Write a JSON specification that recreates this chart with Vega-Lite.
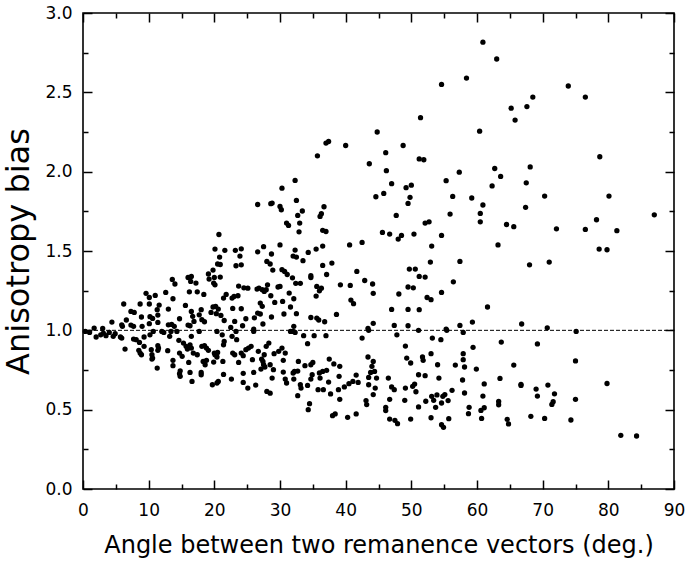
{
  "$schema": "https://vega.github.io/schema/vega-lite/v6.json",
  "width": 591,
  "height": 476,
  "autosize": {"type": "none"},
  "padding": {"left": 83, "top": 13, "right": 11, "bottom": 73},
  "background": "white",
  "data": {"values": [
    {"a":54.6,"b":2.55},{"a":58.4,"b":2.59},{"a":51.4,"b":2.34},{"a":44.8,"b":2.25},{"a":60.4,"b":2.255},{"a":37.0,"b":2.18},{"a":37.4,"b":2.19},{"a":40.0,"b":2.165},{"a":48.75,"b":2.165},{"a":35.7,"b":2.10},{"a":46.1,"b":2.12},{"a":43.6,"b":2.05},{"a":51.2,"b":2.08},{"a":51.9,"b":2.075},
    {"a":60.9,"b":2.816},{"a":63.0,"b":2.71},{"a":73.9,"b":2.54},{"a":76.5,"b":2.47},{"a":68.5,"b":2.47},{"a":65.2,"b":2.40},{"a":67.6,"b":2.41},{"a":65.8,"b":2.325},{"a":78.7,"b":2.094},{"a":62.7,"b":2.02},{"a":68.1,"b":2.03},
    {"a":63.6,"b":1.97},{"a":62.3,"b":1.91},{"a":67.5,"b":1.93},{"a":70.3,"b":1.846},{"a":80.1,"b":1.846},{"a":60.9,"b":1.79},{"a":60.5,"b":1.737},{"a":60.5,"b":1.684},{"a":67.4,"b":1.775},{"a":87.0,"b":1.728},{"a":78.2,"b":1.697},{"a":64.5,"b":1.667},{"a":65.6,"b":1.653},{"a":72.1,"b":1.64},{"a":76.5,"b":1.636},{"a":81.3,"b":1.628},{"a":63.2,"b":1.538},{"a":78.6,"b":1.512},{"a":79.8,"b":1.508},{"a":71.0,"b":1.43},{"a":68.0,"b":1.413},{"a":61.6,"b":1.147},{"a":66.8,"b":1.04},{"a":70.7,"b":1.016},
    {"a":75.1,"b":0.993},{"a":63.7,"b":0.926},{"a":69.2,"b":0.914},{"a":75.0,"b":0.807},{"a":65.6,"b":0.781},{"a":61.1,"b":0.662},{"a":63.5,"b":0.697},{"a":66.7,"b":0.66},{"a":66.7,"b":0.653},{"a":69.0,"b":0.63},{"a":70.8,"b":0.655},{"a":79.8,"b":0.665},{"a":60.9,"b":0.586},{"a":69.2,"b":0.586},{"a":71.8,"b":0.60},{"a":75.0,"b":0.565},{"a":63.3,"b":0.552},{"a":63.3,"b":0.531},{"a":71.6,"b":0.55},{"a":71.4,"b":0.533},{"a":61.1,"b":0.512},{"a":60.6,"b":0.495},{"a":60.7,"b":0.445},{"a":64.6,"b":0.439},{"a":64.8,"b":0.41},{"a":68.2,"b":0.458},{"a":70.3,"b":0.445},{"a":74.3,"b":0.435},{"a":81.9,"b":0.338},{"a":84.3,"b":0.334},
    {"a":32.3,"b":1.945},{"a":30.3,"b":1.896},{"a":32.5,"b":1.819},{"a":46.2,"b":2.006},{"a":47.0,"b":1.924},{"a":49.2,"b":1.899},{"a":50.0,"b":1.915},{"a":57.3,"b":1.997},{"a":55.3,"b":1.943},{"a":44.6,"b":1.842},{"a":45.8,"b":1.863},{"a":49.8,"b":1.838},{"a":49.5,"b":1.80},{"a":56.3,"b":1.844},{"a":59.2,"b":1.834},{"a":30.0,"b":1.781},{"a":30.2,"b":1.76},{"a":33.4,"b":1.752},{"a":36.7,"b":1.779},{"a":32.7,"b":1.724},{"a":36.3,"b":1.735},{"a":36.1,"b":1.718},{"a":31.0,"b":1.676},{"a":31.3,"b":1.661},{"a":33.0,"b":1.676},{"a":32.9,"b":1.621},{"a":36.5,"b":1.63},{"a":37.0,"b":1.623},{"a":47.7,"b":1.724},{"a":52.1,"b":1.676},{"a":52.7,"b":1.684},{"a":55.9,"b":1.733},{"a":45.6,"b":1.617},{"a":46.7,"b":1.607},{"a":48.0,"b":1.575},{"a":48.5,"b":1.598},{"a":50.4,"b":1.607},{"a":54.6,"b":1.598},{"a":53.1,"b":1.531},{"a":30.0,"b":1.538},{"a":32.3,"b":1.506},{"a":32.0,"b":1.468},{"a":32.5,"b":1.462},{"a":33.5,"b":1.439},{"a":34.3,"b":1.491},{"a":35.5,"b":1.512},{"a":36.5,"b":1.531},{"a":40.6,"b":1.538},{"a":42.5,"b":1.554},{"a":37.9,"b":1.424},{"a":36.5,"b":1.409},{"a":37.1,"b":1.352},{"a":52.9,"b":1.43},{"a":57.4,"b":1.434},{"a":30.3,"b":1.382},{"a":30.7,"b":1.371},{"a":31.1,"b":1.352},{"a":31.9,"b":1.331},{"a":32.4,"b":1.296},{"a":33.1,"b":1.296},{"a":34.7,"b":1.344},{"a":34.7,"b":1.333},{"a":30.0,"b":1.277},{"a":35.6,"b":1.277},{"a":36.3,"b":1.266},{"a":36.0,"b":1.249},{"a":35.5,"b":1.216},{"a":31.4,"b":1.235},{"a":32.1,"b":1.199},{"a":30.4,"b":1.182},{"a":31.6,"b":1.147},{"a":30.6,"b":1.103},{"a":32.5,"b":1.105},{"a":34.7,"b":1.081},{"a":35.6,"b":1.077},{"a":35.9,"b":1.065},{"a":36.8,"b":1.054},{"a":32.1,"b":1.025},{"a":38.6,"b":1.10},{"a":39.2,"b":1.287},{"a":40.7,"b":1.283},{"a":41.7,"b":1.371},{"a":42.9,"b":1.314},{"a":44.1,"b":1.292},{"a":44.2,"b":1.233},{"a":40.8,"b":1.191},{"a":41.2,"b":1.168},{"a":44.2,"b":1.044},{"a":43.4,"b":1.012},{"a":47.4,"b":1.031},{"a":47.0,"b":1.132},{"a":48.1,"b":1.229},{"a":49.5,"b":1.273},{"a":50.3,"b":1.268},{"a":49.7,"b":1.386},{"a":50.6,"b":1.386},{"a":51.2,"b":1.34},{"a":52.1,"b":1.336},{"a":49.5,"b":1.132},{"a":51.2,"b":1.13},{"a":49.5,"b":1.029},{"a":52.4,"b":1.207},{"a":53.0,"b":1.193},{"a":54.6,"b":1.239},{"a":56.4,"b":1.306},{"a":57.4,"b":1.031},{"a":59.3,"b":1.052},{"a":55.3,"b":1.008},
    {"a":20.7,"b":1.604},{"a":26.6,"b":1.793},{"a":28.6,"b":1.798},{"a":28.8,"b":1.802},{"a":20.1,"b":1.512},{"a":21.6,"b":1.504},{"a":23.2,"b":1.504},{"a":24.1,"b":1.514},{"a":20.8,"b":1.462},{"a":20.5,"b":1.418},{"a":20.9,"b":1.415},{"a":23.9,"b":1.468},{"a":23.3,"b":1.407},{"a":24.1,"b":1.413},{"a":26.6,"b":1.495},{"a":27.5,"b":1.527},{"a":28.7,"b":1.481},{"a":28.0,"b":1.434},{"a":28.5,"b":1.418},{"a":28.9,"b":1.38},{"a":19.8,"b":1.38},{"a":19.1,"b":1.355},{"a":19.2,"b":1.323},{"a":20.0,"b":1.333},{"a":20.9,"b":1.336},{"a":19.9,"b":1.298},{"a":20.1,"b":1.287},{"a":16.0,"b":1.333},{"a":16.5,"b":1.34},{"a":16.4,"b":1.308},{"a":17.2,"b":1.298},{"a":13.6,"b":1.321},{"a":14.0,"b":1.292},{"a":16.2,"b":1.243},{"a":17.4,"b":1.243},{"a":18.4,"b":1.226},{"a":12.6,"b":1.239},{"a":13.7,"b":1.199},{"a":9.6,"b":1.233},{"a":10.1,"b":1.207},{"a":11.0,"b":1.22},{"a":6.2,"b":1.166},{"a":8.7,"b":1.166},{"a":7.3,"b":1.119},{"a":7.8,"b":1.113},{"a":10.1,"b":1.166},{"a":11.6,"b":1.159},{"a":13.0,"b":1.134},{"a":15.6,"b":1.157},{"a":16.5,"b":1.119},{"a":18.0,"b":1.13},{"a":19.8,"b":1.147},{"a":20.2,"b":1.151},{"a":20.6,"b":1.134},{"a":19.5,"b":1.113},{"a":20.3,"b":1.105},{"a":21.0,"b":1.094},{"a":21.8,"b":1.226},{"a":21.4,"b":1.203},{"a":22.7,"b":1.203},{"a":23.0,"b":1.214},{"a":23.6,"b":1.218},{"a":23.7,"b":1.279},{"a":24.5,"b":1.268},{"a":25.1,"b":1.266},{"a":22.8,"b":1.138},{"a":24.1,"b":1.136},{"a":21.5,"b":1.062},{"a":23.1,"b":1.056},{"a":24.3,"b":1.029},{"a":24.8,"b":1.073},{"a":26.5,"b":1.26},{"a":26.8,"b":1.266},{"a":27.3,"b":1.256},{"a":27.6,"b":1.245},{"a":27.9,"b":1.256},{"a":28.1,"b":1.287},{"a":29.7,"b":1.273},{"a":27.0,"b":1.172},{"a":27.3,"b":1.151},{"a":28.6,"b":1.218},{"a":29.2,"b":1.176},{"a":26.6,"b":1.109},{"a":27.0,"b":1.103},{"a":28.7,"b":1.084},{"a":26.1,"b":1.079},{"a":27.4,"b":1.04},{"a":26.0,"b":1.008},{"a":14.7,"b":1.073},{"a":13.5,"b":1.037},{"a":13.9,"b":1.025},{"a":16.7,"b":1.088},{"a":17.7,"b":1.098},{"a":16.9,"b":1.056},{"a":18.1,"b":1.067},{"a":18.5,"b":1.054},{"a":8.9,"b":1.084},{"a":10.2,"b":1.086},{"a":10.6,"b":1.075},{"a":11.4,"b":1.096},{"a":11.3,"b":1.13},{"a":11.4,"b":1.05},{"a":10.1,"b":1.042},{"a":9.0,"b":1.025},{"a":6.6,"b":1.065},{"a":5.9,"b":1.035},{"a":6.0,"b":1.025},{"a":7.3,"b":1.033},{"a":7.7,"b":1.025},{"a":4.4,"b":1.052},{"a":1.7,"b":1.014},{"a":3.0,"b":1.012},{"a":13.0,"b":1.035},{"a":16.0,"b":1.033},{"a":16.3,"b":1.029},{"a":22.5,"b":1.018},
    {"a":0.35,"b":0.993},{"a":1.0,"b":0.987},{"a":2.0,"b":0.958},{"a":2.7,"b":0.972},{"a":3.1,"b":0.983},{"a":3.5,"b":0.966},{"a":4.0,"b":0.987},{"a":4.6,"b":0.962},{"a":4.9,"b":0.979},{"a":5.7,"b":0.958},{"a":5.9,"b":0.951},{"a":7.7,"b":0.945},{"a":8.1,"b":0.941},{"a":8.6,"b":0.924},{"a":9.3,"b":0.958},{"a":10.2,"b":0.972},{"a":10.7,"b":0.993},{"a":12.0,"b":0.993},{"a":12.3,"b":0.987},{"a":13.2,"b":0.962},{"a":13.4,"b":0.993},{"a":14.3,"b":0.993},{"a":16.5,"b":0.962},{"a":17.7,"b":0.993},{"a":20.4,"b":0.993},{"a":21.2,"b":0.972},{"a":21.5,"b":0.93},{"a":22.7,"b":0.962},{"a":23.3,"b":0.993},{"a":23.4,"b":0.941},{"a":26.0,"b":0.993},
    {"a":6.4,"b":0.882},{"a":8.5,"b":0.874},{"a":8.7,"b":0.857},{"a":8.9,"b":0.846},{"a":9.3,"b":0.899},{"a":10.4,"b":0.878},{"a":10.5,"b":0.846},{"a":10.6,"b":0.825},{"a":10.5,"b":0.819},{"a":11.4,"b":0.903},{"a":11.5,"b":0.888},{"a":11.4,"b":0.874},{"a":12.9,"b":0.872},{"a":11.3,"b":0.762},{"a":14.6,"b":0.937},{"a":14.7,"b":0.857},{"a":15.1,"b":0.836},{"a":15.3,"b":0.92},{"a":15.7,"b":0.899},{"a":15.9,"b":0.882},{"a":16.3,"b":0.909},{"a":16.5,"b":0.888},{"a":16.8,"b":0.857},{"a":17.4,"b":0.846},{"a":13.7,"b":0.811},{"a":13.7,"b":0.777},{"a":14.8,"b":0.745},{"a":14.7,"b":0.727},{"a":14.8,"b":0.71},{"a":16.1,"b":0.798},{"a":16.3,"b":0.735},{"a":16.6,"b":0.678},{"a":18.1,"b":0.899},{"a":18.5,"b":0.903},{"a":18.8,"b":0.888},{"a":18.3,"b":0.804},{"a":18.6,"b":0.783},{"a":18.8,"b":0.811},{"a":18.0,"b":0.735},{"a":18.0,"b":0.72},{"a":19.1,"b":0.874},{"a":20.0,"b":0.857},{"a":20.1,"b":0.846},{"a":20.5,"b":0.861},{"a":19.9,"b":0.8},{"a":20.4,"b":0.832},{"a":21.4,"b":0.909},{"a":21.3,"b":0.804},{"a":21.4,"b":0.722},{"a":19.7,"b":0.657},{"a":20.4,"b":0.668},{"a":20.6,"b":0.678},{"a":22.6,"b":0.693},{"a":22.8,"b":0.857},{"a":23.1,"b":0.846},{"a":23.7,"b":0.798},{"a":24.1,"b":0.857},{"a":24.4,"b":0.84},{"a":24.8,"b":0.878},{"a":25.2,"b":0.888},{"a":25.6,"b":0.899},{"a":24.4,"b":0.729},{"a":24.4,"b":0.672},{"a":25.1,"b":0.636},{"a":25.8,"b":0.815},{"a":26.0,"b":0.735},{"a":26.3,"b":0.655},{"a":26.7,"b":0.868},{"a":27.2,"b":0.819},{"a":27.4,"b":0.804},{"a":27.6,"b":0.846},{"a":27.9,"b":0.899},{"a":28.3,"b":0.92},{"a":27.1,"b":0.756},{"a":27.5,"b":0.783},{"a":27.7,"b":0.769},{"a":28.0,"b":0.615},{"a":28.5,"b":0.604},{"a":28.5,"b":0.783},{"a":29.0,"b":0.752},{"a":28.8,"b":0.699},{"a":29.1,"b":0.853},{"a":29.8,"b":0.868},
    {"a":31.6,"b":0.993},{"a":32.0,"b":0.993},{"a":32.3,"b":0.987},{"a":33.6,"b":0.966},{"a":35.2,"b":0.966},{"a":37.0,"b":0.966},{"a":42.5,"b":0.951},{"a":43.5,"b":1.0},{"a":47.8,"b":0.972},{"a":51.1,"b":1.0},{"a":55.4,"b":1.0},{"a":57.9,"b":0.987},
    {"a":30.3,"b":0.888},{"a":30.8,"b":0.857},{"a":30.5,"b":0.811},{"a":30.5,"b":0.737},{"a":30.8,"b":0.693},{"a":31.0,"b":0.668},{"a":32.0,"b":0.731},{"a":32.2,"b":0.741},{"a":32.1,"b":0.693},{"a":32.7,"b":0.743},{"a":32.8,"b":0.804},{"a":33.8,"b":0.777},{"a":34.2,"b":0.916},{"a":34.7,"b":0.783},{"a":35.0,"b":0.798},{"a":34.9,"b":0.72},{"a":34.7,"b":0.693},{"a":33.1,"b":0.657},{"a":33.2,"b":0.636},{"a":32.7,"b":0.588},{"a":34.2,"b":0.653},{"a":34.5,"b":0.538},{"a":34.3,"b":0.5},{"a":35.8,"b":0.626},{"a":36.6,"b":0.626},{"a":36.0,"b":0.731},{"a":36.5,"b":0.741},{"a":37.1,"b":0.748},{"a":36.1,"b":0.699},{"a":37.4,"b":0.674},{"a":37.5,"b":0.819},{"a":38.2,"b":0.788},{"a":39.1,"b":0.773},{"a":37.7,"b":0.599},{"a":39.0,"b":0.71},{"a":38.9,"b":0.626},{"a":39.1,"b":0.565},{"a":39.8,"b":0.643},{"a":40.5,"b":0.664},{"a":41.1,"b":0.678},{"a":41.9,"b":0.672},{"a":41.6,"b":0.718},{"a":38.0,"b":0.462},{"a":38.4,"b":0.473},{"a":40.3,"b":0.452},{"a":41.6,"b":0.473},{"a":43.4,"b":0.832},{"a":44.0,"b":0.773},{"a":44.2,"b":0.804},{"a":43.8,"b":0.735},{"a":44.4,"b":0.741},{"a":43.5,"b":0.703},{"a":44.7,"b":0.699},{"a":43.5,"b":0.657},{"a":44.5,"b":0.636},{"a":44.2,"b":0.595},{"a":43.1,"b":0.557},{"a":43.2,"b":0.532},{"a":46.5,"b":0.699},{"a":47.0,"b":0.643},{"a":47.4,"b":0.626},{"a":46.7,"b":0.565},{"a":46.1,"b":0.515},{"a":46.1,"b":0.494},{"a":46.7,"b":0.441},{"a":47.5,"b":0.433},{"a":47.9,"b":0.412},{"a":49.1,"b":0.901},{"a":49.3,"b":0.825},{"a":49.9,"b":0.794},{"a":49.1,"b":0.636},{"a":49.0,"b":0.559},{"a":49.9,"b":0.441},{"a":50.2,"b":0.647},{"a":50.5,"b":0.661},{"a":50.7,"b":0.613},{"a":51.1,"b":0.72},{"a":52.1,"b":0.714},{"a":51.7,"b":0.832},{"a":51.8,"b":0.811},{"a":51.1,"b":0.517},{"a":52.2,"b":0.553},{"a":53.0,"b":0.853},{"a":53.2,"b":0.951},{"a":54.0,"b":0.783},{"a":54.2,"b":0.699},{"a":53.1,"b":0.584},{"a":53.4,"b":0.559},{"a":53.9,"b":0.593},{"a":53.7,"b":0.515},{"a":54.6,"b":0.542},{"a":54.8,"b":0.584},{"a":55.1,"b":0.595},{"a":55.6,"b":0.557},{"a":56.2,"b":0.622},{"a":53.0,"b":0.449},{"a":54.6,"b":0.405},{"a":54.9,"b":0.389},{"a":54.5,"b":0.941},{"a":55.7,"b":0.443},{"a":56.7,"b":0.781},{"a":57.9,"b":0.853},{"a":57.9,"b":0.815},{"a":58.1,"b":0.769},{"a":57.8,"b":0.687},{"a":58.1,"b":0.605},{"a":58.8,"b":0.515},{"a":58.7,"b":0.475},{"a":59.4,"b":0.893},{"a":59.9,"b":0.756}
  ]},
  "resolve": {"axis": {"x": "independent", "y": "independent"}},
  "layer": [
    {
      "mark": {"type": "point", "opacity": 0},
      "encoding": {
        "x": {"field": "a", "type": "quantitative", "scale": {"domain": [0, 90], "nice": false, "zero": false},
              "axis": {"orient": "bottom", "values": [5,15,25,35,45,55,65,75,85], "tickSize": -5, "labels": false, "title": null}},
        "y": {"field": "b", "type": "quantitative", "scale": {"domain": [0, 3], "nice": false, "zero": false},
              "axis": {"orient": "left", "values": [0.25,0.75,1.25,1.75,2.25,2.75], "tickSize": -5, "labels": false, "title": null}}
      }
    },
    {
      "mark": {"type": "point", "opacity": 0},
      "encoding": {
        "x": {"field": "a", "type": "quantitative", "scale": {"domain": [0, 90], "nice": false, "zero": false},
              "axis": {"orient": "top", "values": [0,10,20,30,40,50,60,70,80,90], "tickSize": -9, "labels": false, "title": null}},
        "y": {"field": "b", "type": "quantitative", "scale": {"domain": [0, 3], "nice": false, "zero": false},
              "axis": {"orient": "right", "values": [0,0.5,1,1.5,2,2.5,3], "tickSize": -9, "labels": false, "title": null}}
      }
    },
    {
      "mark": {"type": "point", "opacity": 0},
      "encoding": {
        "x": {"field": "a", "type": "quantitative", "scale": {"domain": [0, 90], "nice": false, "zero": false},
              "axis": {"orient": "top", "values": [5,15,25,35,45,55,65,75,85], "tickSize": -5, "labels": false, "title": null}},
        "y": {"field": "b", "type": "quantitative", "scale": {"domain": [0, 3], "nice": false, "zero": false},
              "axis": {"orient": "right", "values": [0.25,0.75,1.25,1.75,2.25,2.75], "tickSize": -5, "labels": false, "title": null}}
      }
    },
    {
      "data": {"values": [{"ref": 1}]},
      "mark": {"type": "rule", "color": "black", "strokeWidth": 1, "strokeDash": [4, 2]},
      "encoding": {
        "y": {"field": "ref", "type": "quantitative", "scale": {"domain": [0, 3], "nice": false, "zero": false}, "axis": null}
      }
    },
    {
      "mark": {"type": "circle", "color": "black", "opacity": 1, "size": 28},
      "encoding": {
        "x": {"field": "a", "type": "quantitative", "scale": {"domain": [0, 90], "nice": false, "zero": false},
              "axis": {"orient": "bottom", "values": [0,10,20,30,40,50,60,70,80,90], "tickSize": -9, "labelPadding": 22, "labelFlush": false, "labelOverlap": false,
                       "title": "Angle between two remanence vectors (deg.)", "titleFontSize": 24, "titleY": 63, "titleBaseline": "alphabetic"}},
        "y": {"field": "b", "type": "quantitative", "scale": {"domain": [0, 3], "nice": false, "zero": false},
              "axis": {"orient": "left", "values": [0,0.5,1,1.5,2,2.5,3], "format": ".1f", "tickSize": -9, "labelPadding": 20, "labelFlush": false, "labelOverlap": false,
                       "title": "Anisotropy bias", "titleFontSize": 32, "titleX": -55, "titleY": 238, "titleBaseline": "alphabetic"}}
      }
    }
  ],
  "config": {
    "view": {"stroke": "black", "strokeWidth": 1.6},
    "axis": {"grid": false, "domain": false, "ticks": true, "tickColor": "black", "tickWidth": 1.5,
             "labelFont": "DejaVu Sans", "labelFontSize": 17, "labelColor": "black",
             "titleFont": "DejaVu Sans", "titleColor": "black", "titleFontWeight": "normal"}
  }
}
